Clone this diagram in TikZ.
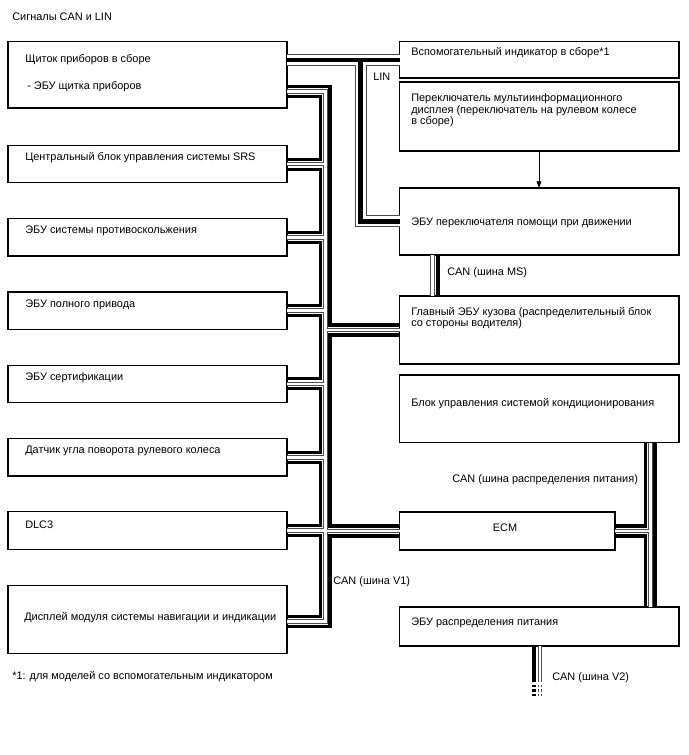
\documentclass[tikz,border=0pt]{standalone}
\usepackage{fontspec}
\setmainfont{Liberation Sans}
\usetikzlibrary{arrows.meta, positioning, fit, calc}

\begin{document}
\begin{tikzpicture}[x=0.75pt, y=-0.75pt,
    font=\fontsize{8.2}{8.6}\selectfont,
    blk/.style={draw, line width=0.9pt, inner sep=0pt, outer sep=0pt},
    txt/.style={anchor=west, inner sep=0pt, align=left},
    wire/.style={line width=2.3pt}]
  \useasboundingbox (0,0) rectangle (688,755);

  \node[txt] (title) at (12,16.7) {Сигналы CAN и LIN};
  \node[txt] (note) at (12,677) {*1: для моделей со вспомогательным индикатором};

  % left column
  \node[blk, fit={(8,41.7) (287,108)}] (shch) {};
  \node[txt] (shch-t) at (25,60) {Щиток приборов в сборе};
  \node[txt] (shch-s) at (27,87) {- ЭБУ щитка приборов};
  \foreach \n/\t/\lbl in {
      srs/145.3/{Центральный блок управления системы SRS},
      abs/218.6/{ЭБУ системы противоскольжения},
      awd/291.9/{ЭБУ полного привода},
      cert/365.2/{ЭБУ сертификации},
      sas/438.5/{Датчик угла поворота рулевого колеса},
      dlc/511.8/{DLC3}%
    }{
      \node[blk, fit={(8,\t) (287,\t+37.5)}] (\n) {};
      \node[txt] (\n-t) at (25,\t+12.7) {\lbl};
      \coordinate (\n-i) at ($(\n.east)+(0,-5)$);
      \coordinate (\n-o) at ($(\n.east)+(0,5)$);
    }
  \node[blk, fit={(8,585.5) (287,653.5)}] (disp) {};
  \node[txt] (disp-t) at (24,618) {Дисплей модуля системы навигации и индикации};

  % right column
  \node[blk, fit={(399.5,41.7) (679,78)}] (aux) {};
  \node[txt] (aux-t) at (411,53) {Вспомогательный индикатор в сборе*1};
  \node[blk, fit={(399.5,82) (679,151)}] (mfs) {};
  \node[txt, anchor=north west] (mfs-t) at (411,93.5) {Переключатель мультиинформационного\\дисплея (переключатель на рулевом колесе\\в сборе)};
  \node[blk, fit={(399.5,188) (679,255)}] (dsw) {};
  \node[txt] (dsw-t) at (411,223) {ЭБУ переключателя помощи при движении};
  \node[blk, fit={(399.5,296) (679,364)}] (bcm) {};
  \node[txt, anchor=north west] (bcm-t) at (411,307) {Главный ЭБУ кузова (распределительный блок\\со стороны водителя)};
  \node[blk, fit={(399.5,375) (679,442.7)}] (ac) {};
  \node[txt] (ac-t) at (411,403.3) {Блок управления системой кондиционирования};
  \node[blk, fit={(399.5,512) (615,550)}] (ecm) {};
  \node[inner sep=0pt] (ecm-t) at (505,528) {ECM};
  \node[blk, fit={(399.5,607) (679,646)}] (pdu) {};
  \node[txt] (pdu-t) at (411,622.7) {ЭБУ распределения питания};

  % bus end points
  \coordinate (shch-i) at ($(shch.north east)+(0,45)$);
  \coordinate (shch-c) at ($(shch.north east)+(0,50)$);
  \coordinate (shch-o) at ($(shch.north east)+(0,55)$);
  \coordinate (disp-c) at ($(disp.east)+(0,2)$);
  \coordinate (disp-i) at ($(disp.east)+(0,-3)$);
  \coordinate (disp-o) at ($(disp.east)+(0,7)$);
  \foreach \n in {bcm, ecm}{
    \coordinate (\n-i) at ($(\n.west)+(0,-5)$);
    \coordinate (\n-o) at ($(\n.west)+(0,5)$);
    \coordinate (\n-ri) at ($(\n.east)+(0,-5)$);
    \coordinate (\n-ro) at ($(\n.east)+(0,5)$);
  }
  \coordinate (v1a) at (320.8,0);
  \coordinate (v1b) at (325.3,0);
  \coordinate (v1c) at (330,0);
  \coordinate (pda) at (645.5,0);
  \coordinate (pdb) at (650.3,0);
  \coordinate (pdc) at (655,0);
  \coordinate (msb) at (432.3,0);
  \coordinate (msc) at (438,0);
  \coordinate (v2a) at (534,0);
  \coordinate (v2b) at (540,0);
  \coordinate (v2end) at (0,680);
  \coordinate (v2dots) at (0,696);
  \coordinate (lin) at (360.5,0);
  \coordinate (arr) at (539,0);

  % LIN line
  \foreach \w/\c in {9pt/black!70, 7.5pt/white, 3.3pt/black}
    \draw[line width=\w, color=\c]
      (shch.east |- aux.west) -- (aux.west)
      (aux.west -| lin) -- (dsw.west -| lin) -- (dsw.west);

  % CAN low wires
  \foreach \w/\c in {3.45pt/black!70, 1.95pt/white}{
    \draw[line width=\w, color=\c]
      (shch-c) -- (shch-c -| v1b) -- (disp-c -| v1b) -- (disp-c)
      (srs.east) -- (srs.east -| v1b)
      (abs.east) -- (abs.east -| v1b)
      (awd.east) -- (awd.east -| v1b)
      (cert.east) -- (cert.east -| v1b)
      (sas.east) -- (sas.east -| v1b)
      (dlc.east) -- (dlc.east -| v1b)
      (bcm.west) -- (bcm.west -| v1b)
      (ecm.west) -- (ecm.west -| v1b)
      (ac.south -| pdb) -- (pdu.north -| pdb)
      (ecm.east) -- (ecm.east -| pdb)
      (dsw.south -| msb) -- (bcm.north -| msb)
      (pdu.south -| v2b) -- (v2end -| v2b);
    \draw[line width=\w, color=\c, dash pattern=on 1.8pt off 1.7pt]
      (v2end -| v2b) -- (v2dots -| v2b);
  }

  % CAN high wires
  \foreach \a/\b in {shch/srs, srs/abs, abs/awd, awd/cert, cert/sas, sas/dlc, dlc/disp}
    \draw[wire] (\a-o) -- (\a-o -| v1a) -- (\b-i -| v1a) -- (\b-i);
  \draw[wire]
    (shch-i) -- (shch-i -| v1c) -- (bcm-i -| v1c) -- (bcm-i)
    (bcm-o) -- (bcm-o -| v1c) -- (ecm-i -| v1c) -- (ecm-i)
    (ecm-o) -- (ecm-o -| v1c) -- (disp-o -| v1c) -- (disp-o)
    (ac.south -| pda) -- (ecm-ri -| pda) -- (ecm-ri)
    (ecm-ro) -- (ecm-ro -| pda) -- (pdu.north -| pda)
    (ac.south -| pdc) -- (pdu.north -| pdc)
    (dsw.south -| msc) -- (bcm.north -| msc)
    (pdu.south -| v2a) -- (v2end -| v2a);
  \draw[wire, dash pattern=on 1.8pt off 1.7pt] (v2end -| v2a) -- (v2dots -| v2a);

  \draw[-{Triangle[length=5pt,width=3.6pt]}, line width=0.6pt] (mfs.south -| arr) -- (dsw.north -| arr);

  \node[txt] (lin-l) at (373,77) {LIN};
  \node[txt] (ms-l) at (447,273) {CAN (шина MS)};
  \node[txt] (pd-l) at (452,480) {CAN (шина распределения питания)};
  \node[txt] (v1-l) at (333,582) {CAN (шина V1)};
  \node[txt] (v2-l) at (552,678) {CAN (шина V2)};
\end{tikzpicture}
\end{document}
